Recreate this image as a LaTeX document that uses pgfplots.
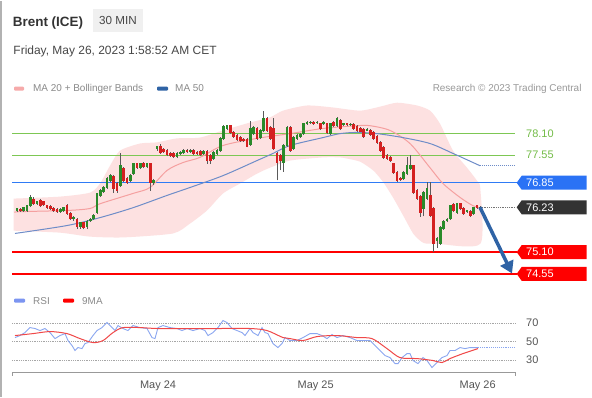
\documentclass[border=0pt]{standalone}
\usepackage{pgfplots}
\pgfplotsset{compat=1.18}
\usepackage{pgfplotstable}
\usetikzlibrary{arrows.meta}
\usepackage{fontspec}
\setmainfont{Liberation Sans}

\definecolor{cgreen}{HTML}{2A8A2A}
\definecolor{cred}{HTML}{D42020}
\definecolor{wick}{HTML}{5A5A5A}
\definecolor{band}{HTML}{FDE1E1}
\definecolor{ma20}{HTML}{F5A0A0}
\definecolor{ma50}{HTML}{6E8CC8}
\definecolor{levgreen}{rgb}{0.49,0.78,0.33}
\definecolor{lvgreentxt}{HTML}{74BC48}
\definecolor{lvblue}{HTML}{2F7BF5}
\definecolor{tagblue}{HTML}{2A72F5}
\definecolor{lvred}{HTML}{FF0000}
\definecolor{tagdark}{HTML}{333333}
\definecolor{arrowblue}{HTML}{2F63A5}
\definecolor{rsiblue}{HTML}{8AA6F0}
\definecolor{rsired}{HTML}{F04848}
\definecolor{txtdark}{HTML}{333333}
\definecolor{txtmid}{HTML}{555555}
\definecolor{txtlight}{HTML}{8A8A8A}

\pgfplotstableread{
k o h l c
0 76.15 76.22 76.12 76.20
1 76.17 76.20 76.12 76.15
2 76.15 76.25 76.12 76.22
3 76.15 76.30 76.12 76.27
4 76.27 76.53 76.25 76.48
5 76.43 76.50 76.30 76.32
6 76.32 76.40 76.29 76.37
7 76.40 76.45 76.25 76.27
8 76.37 76.40 76.27 76.30
9 76.27 76.30 76.19 76.22
10 76.25 76.28 76.17 76.20
11 76.20 76.23 76.12 76.15
12 76.17 76.20 76.09 76.12
13 76.12 76.20 76.09 76.17
14 76.15 76.25 76.12 76.22
15 76.27 76.32 76.04 76.07
16 76.07 76.10 75.91 75.94
17 75.94 76.00 75.89 75.97
18 75.94 75.97 75.69 75.74
19 75.74 75.87 75.69 75.84
20 75.84 75.87 75.67 75.72
21 75.74 75.92 75.69 75.89
22 75.89 75.97 75.86 75.94
23 75.94 76.05 75.91 76.02
24 76.10 76.60 76.07 76.58
25 76.53 76.68 76.50 76.65
26 76.63 76.76 76.60 76.73
27 76.73 76.99 76.70 76.96
28 76.91 77.06 76.88 77.03
29 77.01 77.04 76.60 76.70
30 76.83 76.86 76.60 76.65
31 76.78 77.59 76.75 77.28
32 77.21 77.24 76.88 76.91
33 76.96 76.99 76.83 76.86
34 76.91 77.06 76.88 77.03
35 77.08 77.36 77.05 77.33
36 77.33 77.36 77.20 77.23
37 77.23 77.36 77.20 77.33
38 77.33 77.38 77.22 77.25
39 77.25 77.36 77.22 77.33
40 77.33 77.36 76.65 76.86
41 76.86 76.94 76.80 76.91
42 77.71 77.79 77.66 77.76
43 77.76 77.84 77.58 77.61
44 77.69 77.72 77.61 77.64
45 77.66 77.69 77.53 77.56
46 77.59 77.62 77.51 77.54
47 77.59 77.62 77.48 77.51
48 77.51 77.62 77.48 77.59
49 77.59 77.64 77.56 77.61
50 77.61 77.69 77.58 77.66
51 77.66 77.69 77.61 77.64
52 77.64 77.69 77.61 77.66
53 77.66 77.69 77.56 77.59
54 77.61 77.64 77.56 77.59
55 77.64 77.67 77.53 77.56
56 77.59 77.67 77.56 77.64
57 77.64 77.67 77.33 77.41
58 77.54 77.57 77.33 77.41
59 77.46 77.64 77.43 77.61
60 77.59 77.69 77.56 77.66
61 77.66 78.00 77.63 77.97
62 77.97 78.32 77.94 78.27
63 78.22 78.32 78.19 78.29
64 78.29 78.32 78.09 78.12
65 78.12 78.15 77.99 78.02
66 78.04 78.07 77.91 77.94
67 77.99 78.02 77.89 77.92
68 77.94 77.97 77.89 77.92
69 77.94 77.97 77.74 77.77
70 77.82 78.42 77.79 78.22
71 78.09 78.27 78.06 78.24
72 78.22 78.25 77.94 77.97
73 77.99 78.20 77.96 78.17
74 78.17 78.67 78.14 78.47
75 78.47 78.50 78.14 78.17
76 78.24 78.27 77.94 77.97
77 78.22 78.49 77.68 77.71
78 77.59 77.62 76.91 77.36
79 77.54 77.57 77.16 77.41
80 77.36 77.82 77.13 77.79
81 77.79 78.27 77.76 78.24
82 78.24 78.27 77.63 77.66
83 77.71 78.02 77.68 77.99
84 77.97 78.07 77.94 78.04
85 78.02 78.10 77.99 78.07
86 78.09 78.37 78.06 78.34
87 78.34 78.40 78.31 78.37
88 78.37 78.40 78.34 78.37
89 78.37 78.40 78.31 78.34
90 78.37 78.40 78.34 78.37
91 78.34 78.37 78.19 78.22
92 78.34 78.40 78.31 78.37
93 78.34 78.37 78.09 78.12
94 78.09 78.37 78.06 78.34
95 78.37 78.40 78.26 78.29
96 78.29 78.50 78.26 78.47
97 78.42 78.45 78.19 78.22
98 78.32 78.35 78.29 78.34
99 78.34 78.37 78.29 78.32
100 78.32 78.35 78.29 78.32
101 78.32 78.35 78.19 78.22
102 78.27 78.30 78.14 78.17
103 78.22 78.25 78.12 78.14
104 78.19 78.22 77.99 78.02
105 78.17 78.22 78.16 78.19
106 78.17 78.20 78.04 78.07
107 78.12 78.15 77.94 77.97
108 78.02 78.05 77.84 77.87
109 77.87 77.90 77.63 77.66
110 77.74 77.77 77.46 77.49
111 77.54 77.57 77.43 77.46
112 77.49 77.52 77.38 77.41
113 77.33 77.36 77.08 77.11
114 77.11 77.14 76.88 76.91
115 76.96 76.99 76.90 76.93
116 76.96 77.14 76.93 77.11
117 77.08 77.49 77.05 77.28
118 77.21 77.54 77.18 77.28
119 77.28 77.31 76.57 76.60
120 76.65 76.68 76.42 76.45
121 76.50 76.53 75.99 76.10
122 76.20 76.63 76.00 76.60
123 76.45 76.86 76.42 76.70
124 76.53 76.86 75.99 76.02
125 76.20 76.23 75.09 75.31
126 75.39 75.47 75.20 75.44
127 75.31 75.75 75.28 75.72
128 75.69 75.92 75.66 75.89
129 75.89 75.97 75.86 75.94
130 75.94 76.30 75.91 76.27
131 76.30 76.33 76.12 76.15
132 76.10 76.35 76.07 76.32
133 76.32 76.35 76.17 76.20
134 76.20 76.23 76.04 76.07
135 76.12 76.17 76.09 76.15
136 76.12 76.15 75.99 76.02
137 76.07 76.25 76.04 76.22
138 76.27 76.30 76.19 76.22
139 76.22 76.26 76.20 76.23
}\candles

\newcommand{\pricetag}[3]{%
  \fill[#2] (axis cs:149.4,#1) ++(1.7bp,0pt) -- ++(5bp,7bp) -- ++(65bp,0pt) -- ++(0pt,-14bp) -- ++(-65bp,0pt) -- cycle;
  \node[anchor=west, text=white, font=\fontsize{11}{13}\selectfont, inner sep=0pt, xshift=11bp] at (axis cs:149.4,#1) {#3};
}

\begin{document}
\begin{tikzpicture}
\fill[white] (0pt,0pt) rectangle (592bp,396bp);
\draw[black!30, line width=1.2bp] (1bp,0pt) -- (1bp,396bp);

% ---------------- price panel ----------------
\begin{axis}[
  at={(12bp,116bp)}, anchor=south west,
  width=503bp, height=185bp, scale only axis,
  xmin=-1.5, xmax=149.4, ymin=74.38, ymax=79.05,
  hide axis, clip=false,
  colormap={updown}{color(0)=(cred) color(1)=(cgreen)},
  point meta min=0, point meta max=1,
]
% Bollinger band (upper edge forward, lower edge back)
\addplot[fill=band, draw=none, smooth, tension=0.4] coordinates {
(-1,76.45) (12.9,76.50) (21.9,76.60) (24.9,76.83) (27.9,77.28) (30.9,77.66) (36.9,77.84) (42,77.87) (48,77.97) (54.9,77.99) (61.8,78.17) (69.9,78.37) (75.9,78.50) (79.8,78.67) (87,78.80) (94.8,78.75) (102.9,78.67) (108.9,78.77) (114,78.87) (120,78.80) (123.9,78.67) (126.9,78.34) (130.8,77.66) (135,77.23) (138,76.90) (139,76.70)
(139,75.31) (126,75.31) (122,75.33) (119,75.55) (116,76.00) (113,76.45) (110,76.85) (107,77.15) (103,77.38) (99,77.46) (96.9,77.49) (91.8,77.49) (81.9,77.41) (75.9,77.23) (72,77.08) (66.9,76.83) (61.8,76.58) (57,76.15) (51.9,75.82) (46.8,75.57) (31.8,75.47) (21.9,75.49) (12.9,75.59) (-1,75.64)};

% level lines
\addplot[draw=levgreen, mark=none, line width=1bp] coordinates {(-1.5,78.10) (149.4,78.10)};
\addplot[draw=levgreen, mark=none, line width=1bp] coordinates {(-1.5,77.55) (149.4,77.55)};
\addplot[draw=lvblue, mark=none, line width=1.2bp] coordinates {(-1.5,76.85) (149.9,76.85)};
\addplot[draw=lvred, mark=none, line width=2bp] coordinates {(-1.5,75.10) (149.9,75.10)};
\addplot[draw=lvred, mark=none, line width=2bp] coordinates {(-1.5,74.55) (149.9,74.55)};
\addplot[black!55, line width=0.8bp, densely dotted] coordinates {(138.9,76.23) (149.4,76.23)};

% moving averages
\addplot[ma20, line width=1bp, smooth, tension=0.5] coordinates {
(-0.6,76.10) (0.9,76.12) (15,76.15) (21.9,76.20) (24.9,76.32) (34.8,76.58) (39.9,76.73) (45,77.16) (49.8,77.36) (54.9,77.49) (61.8,77.79) (72,77.97) (81.9,78.09) (91.8,78.22) (102,78.29) (105.9,78.29) (111.9,78.17) (117.9,77.84) (123.9,77.23) (127.8,76.83) (132.9,76.48) (136.8,76.27) (138.9,76.22)};
\addplot[ma50, line width=1bp, smooth, tension=0.5] coordinates {
(-0.6,75.57) (15,75.77) (24.9,75.97) (34.8,76.22) (45,76.53) (51.9,76.73) (61.8,77.03) (72,77.41) (76.8,77.59) (81.9,77.79) (91.8,77.99) (96.9,78.09) (102,78.12) (108,78.09) (115.8,77.99) (123.9,77.84) (130.8,77.59) (138.9,77.28)};
\addplot[ma50, line width=1bp, densely dotted] coordinates {(138.9,77.28) (149.4,77.28)};

% candles: wicks
\addplot[mark=none, color=wick, line width=0.75bp,
  quiver={u=0, v=\thisrow{h}-\thisrow{l}}]
  table[x=k, y=l] {\candles};
% candles: bodies, coloured by direction (meta 1 = up, 0 = down)
\addplot[mark=none, line width=2.7bp, point meta=explicit,
  quiver={u=0, v=abs(\thisrow{c}-\thisrow{o})+0.014, colored}]
  table[x=k, y expr={min(\thisrow{o},\thisrow{c})-0.007}, meta expr={(\thisrow{c}>\thisrow{o}-0.0001)}] {\candles};

% labels and tags
\node[anchor=west, text=lvgreentxt, font=\fontsize{11}{13}\selectfont, inner sep=0pt, xshift=11bp] at (axis cs:149.4,78.10) {78.10};
\node[anchor=west, text=lvgreentxt, font=\fontsize{11}{13}\selectfont, inner sep=0pt, xshift=11bp] at (axis cs:149.4,77.55) {77.55};
\pricetag{76.85}{tagblue}{76.85}
\pricetag{76.23}{tagdark}{76.23}
\pricetag{75.10}{lvred}{75.10}
\pricetag{74.55}{lvred}{74.55}

% forecast arrow
\draw[arrowblue, line width=3.5bp, -{Triangle[width=14bp,length=12bp]}] (axis cs:138.9,76.23) -- (axis cs:148.5,74.56);
\end{axis}

% ---------------- RSI panel ----------------
\begin{axis}[
  at={(12bp,24.5bp)}, anchor=south west,
  width=503bp, height=58.3bp, scale only axis,
  xmin=-1.5, xmax=149.4, ymin=17, ymax=80,
  axis x line=bottom, axis y line=none,
  x axis line style={draw=black!40, line width=0.9bp, -},
  ytick=\empty,
  xtick={42.3,89.6,138.2}, xticklabels={May 24,May 25,May 26},
  major tick length=0pt,
  xticklabel style={anchor=base, yshift=-16.5bp, text=txtmid, font=\fontsize{11}{13}\selectfont},
  clip=false,
]
\addplot[black!35, line width=0.8bp, densely dotted] coordinates {(-1.5,70) (149.4,70)};
\addplot[black!35, line width=0.8bp, densely dotted] coordinates {(-1.5,50) (149.4,50)};
\addplot[black!35, line width=0.8bp, densely dotted] coordinates {(-1.5,30) (149.4,30)};
\node[anchor=west, text=txtmid, font=\fontsize{11}{13}\selectfont, inner sep=0pt, xshift=11bp] at (axis cs:149.4,70) {70};
\node[anchor=west, text=txtmid, font=\fontsize{11}{13}\selectfont, inner sep=0pt, xshift=11bp] at (axis cs:149.4,50) {50};
\node[anchor=west, text=txtmid, font=\fontsize{11}{13}\selectfont, inner sep=0pt, xshift=11bp] at (axis cs:149.4,30) {30};
\draw[black!40, line width=0.9bp] (axis cs:-1.5,17) -- ++(0pt,-4bp);
\draw[black!40, line width=0.9bp] (axis cs:149.4,17) -- ++(0pt,-4bp);

\addplot[rsiblue, line width=0.9bp] coordinates {
(-0.6,54.3) (0.9,56.5) (2.4,59.7) (3.9,65.1) (5.4,64.1) (6.9,61.9) (8.4,64.1) (9.9,59.7) (11.4,53.2) (12.9,56.5) (14.4,58.6) (15.3,51.1) (16.5,45.7) (17.4,40.3) (18.3,43.5) (19.5,42.4) (20.4,47.8) (21.3,48.9) (22.8,56.5) (24.0,61.9) (25.5,65.1) (27.0,70.5) (27.9,67.3) (29.4,61.9) (30.3,67.3) (31.8,64.1) (33.3,61.9) (34.8,67.3) (36.9,65.1) (39.0,64.1) (40.5,54.3) (41.4,53.2) (42.3,65.1) (43.8,67.3) (45.9,65.1) (48.0,64.1) (49.5,61.9) (51.0,64.1) (52.8,61.9) (54.9,64.1) (56.4,61.9) (57.3,56.5) (58.8,59.7) (60.3,65.1) (61.8,72.7) (63.0,70.5) (64.5,64.1) (66.0,61.9) (67.5,59.7) (68.4,56.5) (69.9,64.1) (70.8,59.7) (72.3,56.5) (73.5,65.1) (74.4,59.7) (75.3,58.6) (76.8,47.8) (78.3,43.5) (79.5,47.8) (80.4,54.3) (81.9,51.1) (84.0,51.1) (85.8,54.3) (87.9,58.6) (90.0,58.6) (91.5,56.5) (93.0,53.2) (94.5,57.6) (96.0,54.3) (97.8,56.5) (99.9,54.3) (102.0,51.1) (103.8,51.1) (105.9,51.1) (107.4,45.7) (108.9,40.3) (110.4,34.9) (111.9,32.7) (113.4,26.2) (114.3,26.2) (115.5,32.7) (117.0,37.0) (117.9,37.0) (118.8,29.5) (120.3,26.2) (121.8,32.7) (123.0,29.5) (124.5,21.9) (126.0,27.3) (127.5,32.7) (129.0,34.9) (129.9,40.3) (131.4,40.3) (132.9,43.5) (134.4,42.4) (135.9,43.5) (138.3,43.5)};
\addplot[rsiblue, line width=0.9bp, densely dotted] coordinates {(138.3,43.5) (149.4,43.5)};
\addplot[rsired, line width=1bp, smooth, tension=0.5] coordinates {
(-0.6,56.5) (4.8,58.6) (9.9,60.8) (15.0,58.6) (18.9,53.2) (22.8,48.9) (25.8,51.1) (28.8,59.7) (31.8,65.1) (36.9,65.1) (42.0,64.1) (49.8,64.1) (60.0,64.1) (69.9,64.1) (75.0,61.9) (79.8,54.3) (81.9,53.2) (85.8,51.1) (90.0,55.4) (96.0,56.5) (102.0,54.3) (106.5,53.2) (111.0,42.4) (114.9,32.7) (120.0,31.6) (124.8,29.5) (127.5,27.3) (129.9,31.6) (133.8,37.0) (138.3,42.4)};
\end{axis}

% ---------------- header ----------------
\node[anchor=base west, inner sep=0pt, text=txtdark, font=\bfseries\fontsize{13.5}{16}\selectfont] at (12.7bp,370.5bp) {Brent (ICE)};
\fill[black!6] (92.7bp,364.3bp) rectangle (143.3bp,387.7bp);
\node[anchor=base, inner sep=0pt, text=txtdark!90, font=\fontsize{11.7}{14}\selectfont] at (118bp,371.8bp) {30 MIN};
\node[anchor=base west, inner sep=0pt, text=txtdark!90, font=\fontsize{12}{14}\selectfont] at (13.3bp,342.4bp) {Friday, May 26, 2023 1:58:52 AM CET};

% legend line 1
\fill[ma20!90, rounded corners=1bp] (14bp,306bp) rectangle (24bp,310bp);
\node[anchor=base west, inner sep=0pt, text=txtlight, font=\fontsize{10}{12}\selectfont] at (33bp,304.7bp) {MA 20 + Bollinger Bands};
\fill[arrowblue, rounded corners=1bp] (157bp,306bp) rectangle (168bp,310bp);
\node[anchor=base west, inner sep=0pt, text=txtlight, font=\fontsize{10}{12}\selectfont] at (175bp,304.7bp) {MA 50};
\node[anchor=base east, inner sep=0pt, text=black!40, font=\fontsize{10}{12}\selectfont] at (581.7bp,304.7bp) {Research © 2023 Trading Central};

% RSI legend
\fill[rsiblue!90!blue, rounded corners=1bp] (14bp,94bp) rectangle (25bp,98bp);
\node[anchor=base west, inner sep=0pt, text=txtlight, font=\fontsize{10}{12}\selectfont] at (33bp,92.4bp) {RSI};
\fill[lvred, rounded corners=1bp] (63bp,94bp) rectangle (74bp,98bp);
\node[anchor=base west, inner sep=0pt, text=txtlight, font=\fontsize{10}{12}\selectfont] at (82bp,92.4bp) {9MA};
\end{tikzpicture}
\end{document}
